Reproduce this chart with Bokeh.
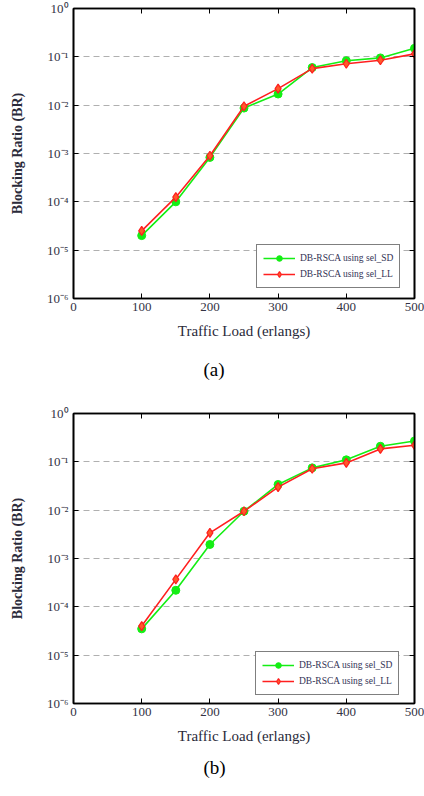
from bokeh.plotting import figure
from bokeh.models import (Range1d, FixedTicker, LinearAxis, LogAxis, Title,
                          Legend, LegendItem)
from bokeh.layouts import column
from bokeh.embed import file_html
from bokeh.resources import INLINE

# ---------------- data ----------------
load = [100, 150, 200, 250, 300, 350, 400, 450, 500]

br_a_sd = [2.0e-5, 1.0e-4, 8.3e-4, 8.7e-3, 1.7e-2, 6.0e-2, 8.3e-2, 9.5e-2, 1.5e-1]
br_a_ll = [2.5e-5, 1.25e-4, 9.0e-4, 9.5e-3, 2.2e-2, 5.7e-2, 7.2e-2, 8.5e-2, 1.15e-1]

br_b_sd = [3.5e-5, 2.2e-4, 1.95e-3, 9.5e-3, 3.4e-2, 7.5e-2, 1.1e-1, 2.1e-1, 2.7e-1]
br_b_ll = [4.0e-5, 3.7e-4, 3.4e-3, 9.5e-3, 3.0e-2, 7.2e-2, 9.5e-2, 1.85e-1, 2.2e-1]

x_ticks = [0, 100, 200, 300, 400, 500]
x_top_ticks = [100, 200, 300, 400]
y_ticks = [1e-6, 1e-5, 1e-4, 1e-3, 1e-2, 1e-1, 1.0]
y_tick_labels = ["10\u207b\u2076", "10\u207b\u2075", "10\u207b\u2074", "10\u207b\u00b3",
                 "10\u207b\u00b2", "10\u207b\u00b9", "10\u2070"]

series_names = ["DB-RSCA using sel_SD", "DB-RSCA using sel_LL"]
captions = ["(a)", "(b)"]
y_label = "Blocking Ratio (BR)"
x_label = "Traffic Load (erlangs)"

FONT = "Liberation Serif"
GREEN = "#14ee14"
RED = "#ff1f1f"


def make_plot(sd, ll, caption, height, top, bottom, legend_loc, cap_standoff):
    p = figure(width=424, height=height, y_axis_type="log",
               x_range=Range1d(0, 500), y_range=Range1d(1e-6, 1.0),
               output_backend="svg", toolbar_location=None,
               min_border_left=73, min_border_right=10,
               min_border_top=top, min_border_bottom=bottom)
    p.outline_line_color = "black"
    p.outline_line_width = 1.6
    p.background_fill_color = "white"
    p.border_fill_color = "white"

    p.xgrid.visible = False
    p.ygrid.ticker = FixedTicker(ticks=y_ticks)
    p.ygrid.grid_line_color = "#b0b0b0"
    p.ygrid.grid_line_dash = "6 4"
    p.ygrid.grid_line_width = 1.2

    xa = p.xaxis[0]
    xa.ticker = FixedTicker(ticks=x_ticks)
    xa.major_tick_in = 5
    xa.major_tick_out = 0
    xa.minor_tick_line_color = None
    xa.axis_line_color = "black"
    xa.axis_line_width = 1.6
    xa.major_label_text_font = FONT
    xa.major_label_text_font_size = "13px"
    xa.major_label_text_color = "#333344"
    xa.major_label_standoff = 4
    xa.axis_label = x_label
    xa.axis_label_text_font = FONT
    xa.axis_label_text_font_size = "15px"
    xa.axis_label_text_font_style = "normal"
    xa.axis_label_text_color = "#2a2a3a"
    xa.axis_label_standoff = 9

    ya = p.yaxis[0]
    ya.ticker = FixedTicker(ticks=y_ticks)
    ya.major_label_overrides = dict(zip(y_ticks, y_tick_labels))
    ya.major_tick_in = 5
    ya.major_tick_out = 0
    ya.minor_tick_line_color = None
    ya.axis_line_color = "black"
    ya.axis_line_width = 1.6
    ya.major_label_text_font = FONT
    ya.major_label_text_font_size = "13px"
    ya.major_label_text_color = "#333344"
    ya.major_label_standoff = 5
    ya.axis_label = y_label
    ya.axis_label_text_font = FONT
    ya.axis_label_text_font_size = "14px"
    ya.axis_label_text_font_style = "bold"
    ya.axis_label_text_color = "#2a2a3a"
    ya.axis_label_standoff = 19

    top_ax = LinearAxis(ticker=FixedTicker(ticks=x_top_ticks),
                        major_tick_in=5, major_tick_out=0,
                        minor_tick_line_color=None,
                        major_label_text_font_size="1px",
                        major_label_text_color=None,
                        major_label_standoff=0,
                        axis_line_color="black", axis_line_width=1.6)
    p.add_layout(top_ax, "above")
    right_ax = LogAxis(ticker=FixedTicker(ticks=y_ticks),
                       major_tick_in=5, major_tick_out=0,
                       minor_tick_line_color=None,
                       major_label_text_font_size="1px",
                       major_label_text_color=None,
                       major_label_standoff=0,
                       axis_line_color="black", axis_line_width=1.6)
    p.add_layout(right_ax, "right")

    l1 = p.line(load, sd, line_color=GREEN, line_width=1.6)
    m1 = p.scatter(load, sd, marker="circle", size=8, fill_color=GREEN,
                   line_color=GREEN)
    l2 = p.line(load, ll, line_color=RED, line_width=1.6)
    m2 = p.scatter(load, ll, marker="diamond", size=9, fill_color="#ff5a2a",
                   line_color=RED, line_width=1.2)

    legend = Legend(items=[LegendItem(label=series_names[0], renderers=[l1, m1]),
                           LegendItem(label=series_names[1], renderers=[l2, m2])],
                    location=legend_loc, margin=0, padding=6, spacing=2,
                    glyph_width=32, glyph_height=14, label_height=14,
                    label_standoff=5,
                    label_text_font=FONT, label_text_font_size="9.5px",
                    label_text_color="#333355",
                    border_line_color="black", border_line_width=1.5,
                    background_fill_alpha=1.0)
    p.add_layout(legend, "center")

    cap = Title(text=caption, align="left", offset=130, vertical_align="top",
                text_font=FONT, text_font_size="19px",
                text_font_style="normal", text_color="black",
                standoff=cap_standoff)
    p.add_layout(cap, "below")
    return p


p1 = make_plot(br_a_sd, br_a_ll, captions[0], 398, 8, 97, (183, 10), 34)
p2 = make_plot(br_b_sd, br_b_ll, captions[1], 398, 15, 93, (182, 8), 20)

layout = column(p1, p2, spacing=0)

open("out.html", "w").write(file_html(layout, INLINE))
